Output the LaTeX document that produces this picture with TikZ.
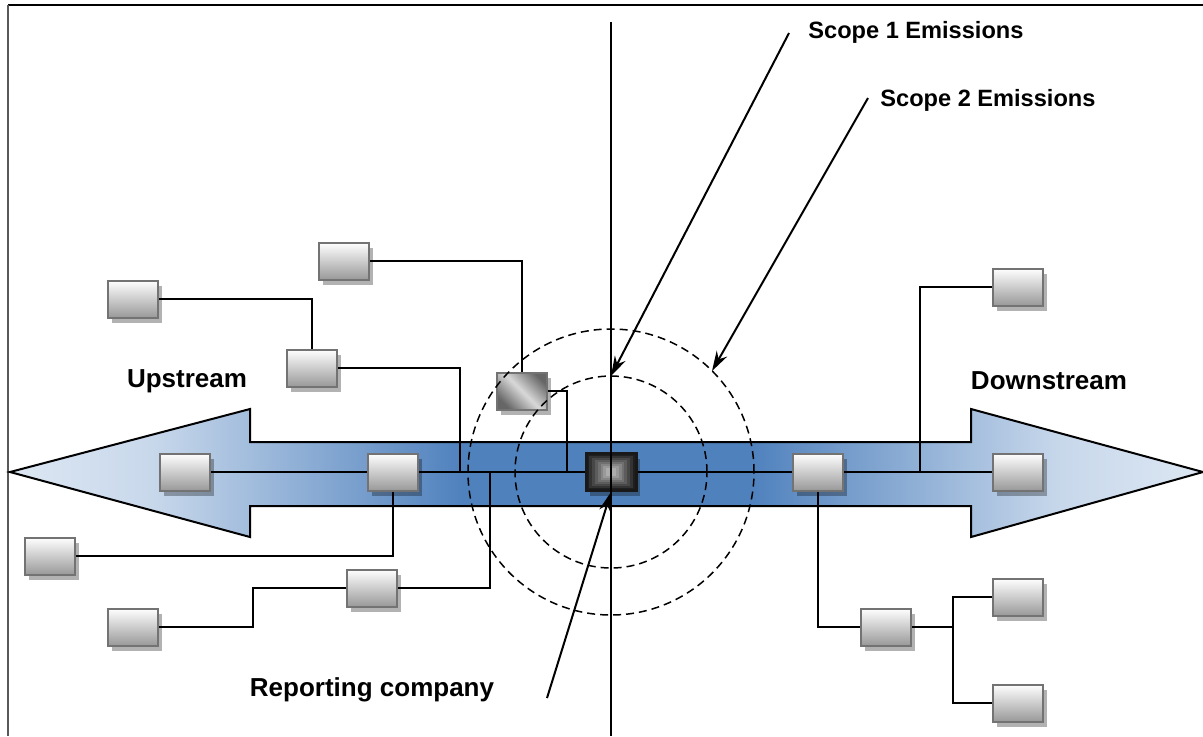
\documentclass[tikz,border=0pt]{standalone}
\usepackage{fontspec}
\setmainfont{Liberation Sans}
\usetikzlibrary{arrows.meta,shadows}

\definecolor{flowlight}{RGB}{221,231,243}
\definecolor{flowdark}{RGB}{79,129,189}
\pgfdeclarehorizontalshading{flowshade}{100bp}{%
  color(0bp)=(flowlight); color(25bp)=(flowlight); color(31bp)=(flowlight!85!flowdark);
  color(44bp)=(flowdark); color(56bp)=(flowdark);
  color(69bp)=(flowlight!85!flowdark); color(75bp)=(flowlight); color(100bp)=(flowlight)}

\tikzset{%
  every box/.style={
    rectangle,
    draw=black!55,
    line width=1pt,
    top color=white,
    bottom color=black!40,
    minimum width=25pt,
    minimum height=18.5pt,
    inner sep=0pt,
    drop shadow={shadow xshift=2pt, shadow yshift=-2.5pt, fill=black, opacity=0.3}
  },
  box own/.style={
    top color=black!60,
    bottom color=black!60,
    middle color=black!15,
    shading angle=-45
  },
  box company/.style={
    draw=black!90,
    line width=1.5pt,
    path picture={
      \foreach \k [evaluate=\k as \g using 88-\k*8] in {0,...,7}
        \fill [black!\g]
          ([shift={(\k*1.45pt,\k*1.05pt)}]path picture bounding box.south west) rectangle
          ([shift={(-\k*1.45pt,-\k*1.05pt)}]path picture bounding box.north east);
    }
  },
  scope ring/.style={dash pattern=on 4pt off 2.5pt, line width=0.75pt},
  scope arrow/.style={line width=1pt, -{Stealth[length=10pt,width=6pt]}},
  link/.style={line width=1pt},
  tag/.style={font=\bfseries\fontsize{13}{15}\selectfont, inner sep=0pt},
  scope tag/.style={tag, font=\bfseries\fontsize{11.8}{14}\selectfont, anchor=west},
}

\begin{document}
\begin{tikzpicture}[x=0.5pt, y=-0.5pt]
    \useasboundingbox (0,0) rectangle (1203,736);
    % frame
    \draw [line width=1pt] (8,5) -- (1203,5);
    \draw [line width=1pt, black!65] (8,5) -- (8,736);

    % value chain
    \shadedraw [shading=flowshade, draw=black, line width=1pt]
      (10,472) -- (250,409) -- (250,442) -- (971,442) -- (971,409) -- (1203,472)
      -- (971,537) -- (971,506) -- (250,506) -- (250,537) -- cycle;

    \foreach \n/\x/\y in {up-1/185/472, up-2/393/472, up-3/133/299, up-4/312/368,
        up-5/344/261, up-6/50/556, up-7/372/588, up-8/133/627,
        down-1/818/472, down-2/1018/472, down-3/1018/287, down-4/886/627,
        down-5/1018/597, down-6/1018/703}
      \node [every box] (\n) at (\x,\y) {};
    \node [every box, box own] (own-1) at (522,391) {};
    \node [every box, box company] (company) at (611,472) {};

    % boundaries
    \draw [scope ring] (company) circle [radius=48pt];
    \draw [scope ring] (company) circle [radius=71.5pt];

    \coordinate (j-1) at (460,472);
    \coordinate (j-2) at (567,472);
    \coordinate (j-3) at (253,588);
    \coordinate (j-4) at (490,472);
    \coordinate (j-5) at (920,472);
    \coordinate (j-6) at (953,627);

    \draw [link] (up-1) -- (up-2) -- (company) -- (down-1) -- (down-2);
    \draw [link] (up-3) -| (up-4);
    \draw [link] (up-4) -| (j-1);
    \draw [link] (up-5) -| (own-1);
    \draw [link] (own-1) -| (j-2);
    \draw [link] (up-6) -| (up-2);
    \draw [link] (up-8) -| (j-3) -- (up-7);
    \draw [link] (up-7) -| (j-4);
    \draw [link] (down-3) -| (j-5);
    \draw [link] (down-1) |- (down-4);
    \draw [link] (down-4) -- (j-6);
    \draw [link] (down-5) -| (j-6) |- (down-6);

    \coordinate (axis-top) at (611,22);
    \coordinate (axis-bot) at (611,736);
    \draw [link] (axis-top) -- (axis-bot);

    % labels
    \node [scope tag] (scope-1) at (808,32) {Scope 1 Emissions};
    \node [scope tag] (scope-2) at (880,100) {Scope 2 Emissions};
    \node [tag] (upstream) at (187,381) {Upstream};
    \node [tag] (downstream) at (1049,381) {Downstream};
    \node [tag] (reporting) at (372,690) {Reporting company};

    \coordinate (s1-start) at (789,33);
    \coordinate (s2-start) at (868,98);
    \coordinate (rc-start) at (547,698);
    \coordinate (ring-1) at (611,376);
    \coordinate (ring-2) at (712,371);
    \draw [scope arrow] (s1-start) -- (ring-1);
    \draw [scope arrow] (s2-start) -- (ring-2);
    \draw [scope arrow] (rc-start) -- (company.south);
\end{tikzpicture}
\end{document}
